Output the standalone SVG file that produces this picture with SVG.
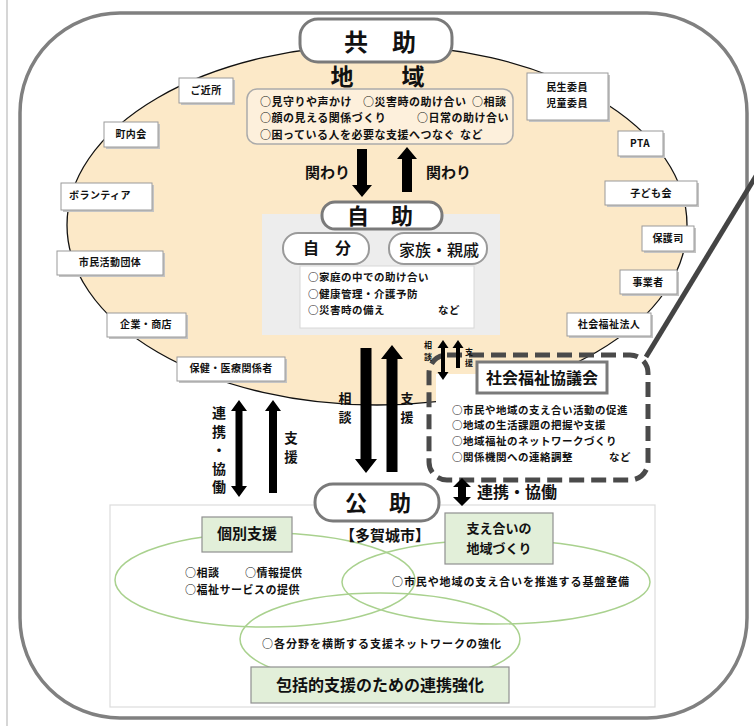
<svg xmlns="http://www.w3.org/2000/svg" width="754" height="726" viewBox="0 0 754 726">
<style>
text{font-family:"Noto Sans CJK JP","Noto Sans CJK SC",sans-serif;fill:#111;}
.b{font-weight:bold;}
.lbl{font-size:10px;font-weight:bold;letter-spacing:0.4px;text-anchor:middle;}
.sm{font-size:11px;font-weight:bold;letter-spacing:0.5px;}
.sh{fill:#c4c4c4;}
.box{fill:#fff;stroke:#9a9a9a;stroke-width:1;}
.pill{fill:#fff;stroke:#7a7a7a;stroke-width:3;}
.gbox{fill:#E2EFD9;stroke:#8f8f8f;stroke-width:1.2;}
.venn{fill:none;stroke:#A9D18E;stroke-width:1.5;}
.arr{fill:#000;}
.mid{text-anchor:middle;}
</style>
<rect width="754" height="726" fill="#fff"/>
<line x1="7" y1="0" x2="7" y2="726" stroke="#c8c8c8" stroke-width="1.5"/>
<rect x="20" y="13" width="727" height="705" rx="100" fill="#fff" stroke="#808080" stroke-width="3.5"/>

<!-- region ellipse -->
<g id="chiiki">
<ellipse cx="377" cy="225" rx="310" ry="180" fill="#FCE9C8" stroke="#111" stroke-width="1.3"/>
<text class="b" x="342" y="85" font-size="23" text-anchor="middle">地</text>
<text class="b" x="413" y="85" font-size="23" text-anchor="middle">域</text>
<rect x="247" y="89" width="266" height="55" rx="10" fill="#FDF0DC" stroke="#aaa" stroke-width="1.5"/>
<text class="sm" x="260" y="106">○見守りや声かけ</text>
<text class="sm" x="363" y="106">○災害時の助け合い</text>
<text class="sm" x="472" y="106">○相談</text>
<text class="sm" x="260" y="122">○顔の見える関係づくり</text>
<text class="sm" x="417" y="122">○日常の助け合い</text>
<text class="sm" x="260" y="139">○困っている人を必要な支援へつなぐ</text>
<text class="sm" x="460" y="139">など</text>
</g>

<g id="kyojo">
<rect class="pill" x="300" y="19" width="152" height="43" rx="18"/>
<text class="b mid" x="380" y="51" font-size="24">共　助</text>
</g>

<!-- surrounding labels -->
<g id="gokinjo"><rect class="sh" x="181" y="80" width="54" height="25"/><rect class="box" x="179" y="78" width="54" height="25"/><text class="lbl" x="206" y="94">ご近所</text></g>
<g id="chonaikai"><rect class="sh" x="106" y="124" width="54" height="25"/><rect class="box" x="104" y="122" width="54" height="25"/><text class="lbl" x="131" y="138">町内会</text></g>
<g id="volunteer"><rect class="sh" x="63" y="185" width="91" height="27"/><rect class="box" x="61" y="183" width="91" height="27"/><text class="lbl" x="100" y="199">ボランティア</text></g>
<g id="shimin"><rect class="sh" x="59" y="253" width="106" height="24"/><rect class="box" x="57" y="251" width="106" height="24"/><text class="lbl" x="110" y="266">市民活動団体</text></g>
<g id="kigyo"><rect class="sh" x="109" y="315" width="79" height="24"/><rect class="box" x="107" y="313" width="79" height="24"/><text class="lbl" x="146" y="328">企業・商店</text></g>
<g id="hoken"><rect class="sh" x="179" y="359" width="108" height="24"/><rect class="box" x="177" y="357" width="108" height="24"/><text class="lbl" x="231" y="372">保健・医療関係者</text></g>
<g id="minsei"><rect class="sh" x="529" y="75" width="81" height="47"/><rect class="box" x="527" y="73" width="81" height="47"/><text class="lbl" x="567" y="91">民生委員</text><text class="lbl" x="567" y="107">児童委員</text></g>
<g id="pta"><rect class="sh" x="620" y="133" width="45" height="25"/><rect class="box" x="618" y="131" width="45" height="25"/><text class="lbl" x="640" y="147">PTA</text></g>
<g id="kodomokai"><rect class="sh" x="607" y="183" width="92" height="24"/><rect class="box" x="605" y="181" width="92" height="24"/><text class="lbl" x="651" y="197">子ども会</text></g>
<g id="hogoshi"><rect class="sh" x="644" y="228" width="52" height="25"/><rect class="box" x="642" y="226" width="52" height="25"/><text class="lbl" x="668" y="242">保護司</text></g>
<g id="jigyosha"><rect class="sh" x="622" y="272" width="57" height="24"/><rect class="box" x="620" y="270" width="57" height="24"/><text class="lbl" x="648" y="286">事業者</text></g>
<g id="shafukuhojin"><rect class="sh" x="569" y="315" width="84" height="23"/><rect class="box" x="567" y="313" width="84" height="23"/><text class="lbl" x="609" y="328">社会福祉法人</text></g>

<!-- self help -->
<g id="jijo">
<rect x="262" y="214" width="238" height="121" fill="#EDEDED"/>
<rect class="pill" x="322" y="202" width="120" height="27" rx="13"/>
<text class="b mid" x="380" y="224" font-size="22">自　助</text>
<rect x="283" y="233" width="86" height="31" rx="15" fill="#fff" stroke="#9a9a9a" stroke-width="2"/>
<text class="b mid" x="327" y="254" font-size="16">自　分</text>
<rect x="389" y="233" width="98" height="31" rx="15" fill="#fff" stroke="#9a9a9a" stroke-width="2"/>
<text class="mid" x="439" y="256" font-size="16" font-weight="500">家族・親戚</text>
<rect x="300" y="266" width="174" height="62" fill="#fff" stroke="#d8d8d8" stroke-width="1"/>
<text class="sm" x="308" y="281" style="font-size:10.5px">○家庭の中での助け合い</text>
<text class="sm" x="308" y="298" style="font-size:10.5px">○健康管理・介護予防</text>
<text class="sm" x="308" y="314" style="font-size:10.5px">○災害時の備え</text>
<text class="sm" x="438" y="314" style="font-size:10.5px">など</text>
</g>

<!-- public help -->
<g id="kojo">
<rect x="110" y="505" width="545" height="202" fill="#fff" stroke="#dcdcdc" stroke-width="1.2"/>
<ellipse class="venn" cx="265" cy="580" rx="150" ry="47"/>
<ellipse class="venn" cx="496" cy="582" rx="154" ry="42"/>
<ellipse class="venn" cx="380" cy="639" rx="140" ry="46"/>
<rect class="pill" x="315" y="484" width="124" height="37" rx="18"/>
<text class="b mid" x="378" y="511" font-size="22">公　助</text>
<text class="b mid" x="385" y="541" font-size="15">【多賀城市】</text>
</g>
<g id="kobetsu">
<rect class="gbox" x="202" y="517" width="90" height="35"/>
<text class="b mid" x="247" y="539" font-size="15">個別支援</text>
<text class="sm" x="185" y="577">○相談</text>
<text class="sm" x="245" y="577">○情報提供</text>
<text class="sm" x="185" y="594">○福祉サービスの提供</text>
</g>
<g id="sasaeai">
<rect class="gbox" x="445" y="513" width="108" height="51"/>
<text class="b mid" x="499" y="533" font-size="13">支え合いの</text>
<text class="b mid" x="499" y="553" font-size="13">地域づくり</text>
<text class="sm" x="392" y="586" style="letter-spacing:0.9px">○市民や地域の支え合いを推進する基盤整備</text>
</g>
<g id="renkei">
<text class="sm" x="262" y="648" style="letter-spacing:1px">○各分野を横断する支援ネットワークの強化</text>
<rect class="gbox" x="251" y="667" width="258" height="36"/>
<text class="b mid" x="380" y="691" font-size="16">包括的支援のための連携強化</text>
</g>

<!-- council -->
<g id="shakyo">
<rect x="436" y="374" width="208" height="102" fill="#fff"/>
<rect x="429" y="355" width="219" height="125" rx="18" fill="none" stroke="#4a4a4a" stroke-width="5" stroke-dasharray="15 7"/>
<rect class="pill" x="477" y="362" width="130" height="31" rx="0"/>
<text class="b mid" x="542" y="384" font-size="16">社会福祉協議会</text>
<text class="sm" x="452" y="414" style="font-size:10.5px">○市民や地域の支え合い活動の促進</text>
<text class="sm" x="452" y="429" style="font-size:10.5px">○地域の生活課題の把握や支援</text>
<text class="sm" x="452" y="445" style="font-size:10.5px">○地域福祉のネットワークづくり</text>
<text class="sm" x="452" y="461" style="font-size:10.5px">○関係機関への連絡調整</text>
<text class="sm" x="609" y="461" style="font-size:10.5px">など</text>
</g>

<!-- connectors -->
<g id="connectors">
<line x1="646" y1="357" x2="756" y2="176" stroke="#444" stroke-width="5"/>
<path class="arr" d="M357 149 H367 V185 H372 L362 197 L352 185 H357 Z"/>
<path class="arr" d="M407 147 L417 159 H412 V192 H402 V159 H397 Z"/>
<path class="arr" d="M360.5 348 H371.5 V459 H377 L366 473 L355 459 H360.5 Z"/>
<path class="arr" d="M392 345 L403 359 H397.5 V472 H386.5 V359 H381 Z"/>
<path class="arr" d="M239 400 L247 411 H242.5 V486 H247 L239 497 L231 486 H235.5 V411 H231 Z"/>
<path class="arr" d="M273 400 L281 411 H277 V493 H269 V411 H265 Z"/>
<path class="arr" d="M443 340 L448.5 348 H445 V372 H448.5 L443 380 L437.5 372 H441 V348 H437.5 Z"/>
<path class="arr" d="M458 340 L463.5 348 H460 V368 H456 V348 H452.5 Z"/>
<path class="arr" d="M462 478 L471 487 H466 V497 H471 L462 506 L453 497 H458 V487 H453 Z"/>
<text class="b" x="305" y="178" font-size="15">関わり</text>
<text class="b" x="426" y="178" font-size="15">関わり</text>
<text class="b mid" font-size="13"><tspan x="345" y="403">相</tspan><tspan x="345" dy="19">談</tspan></text>
<text class="b mid" font-size="13"><tspan x="407" y="403">支</tspan><tspan x="407" dy="19">援</tspan></text>
<text class="b mid" font-size="14"><tspan x="219" y="418">連</tspan><tspan x="219" dy="18.5">携</tspan><tspan x="219" dy="18.5">・</tspan><tspan x="219" dy="18.5">協</tspan><tspan x="219" dy="18.5">働</tspan></text>
<text class="b mid" font-size="13.5"><tspan x="291" y="443">支</tspan><tspan x="291" dy="19">援</tspan></text>
<text class="b mid" font-size="8"><tspan x="428" y="348">相</tspan><tspan x="428" dy="12">談</tspan></text>
<text class="b mid" font-size="8"><tspan x="469" y="355">支</tspan><tspan x="469" dy="11">援</tspan></text>
<text class="b" x="477" y="498" font-size="16">連携・協働</text>
</g>
</svg>
